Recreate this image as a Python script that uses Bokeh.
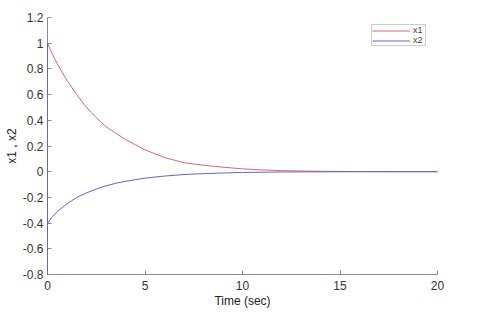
from bokeh.plotting import figure
from bokeh.models import FixedTicker, Range1d
from bokeh.embed import file_html
from bokeh.resources import INLINE

# data
t1 = [0, 0.25, 0.5, 0.75, 1, 1.25, 1.5, 1.75, 2, 2.25, 2.5, 2.75, 3, 3.5, 4, 4.5, 5,
      5.5, 6, 6.5, 7, 8, 9, 10, 11, 12, 14, 16, 18, 20]
x1 = [1.0, 0.915, 0.84, 0.775, 0.71, 0.655, 0.60, 0.55, 0.50, 0.46, 0.42, 0.385, 0.35,
      0.30, 0.25, 0.21, 0.17, 0.14, 0.11, 0.09, 0.07, 0.05, 0.035, 0.022, 0.014, 0.008,
      0.003, 0.001, 0.0, 0.0]
t2 = [0, 0, 0, 0.25, 0.5, 0.75, 1, 1.25, 1.5, 2, 2.5, 3, 3.5, 4, 5, 6, 7, 8, 9, 10,
      11, 12, 14, 16, 18, 20]
x2 = [1.0, -0.8, -0.40, -0.35, -0.31, -0.28, -0.25, -0.225, -0.20, -0.165, -0.135,
      -0.11, -0.09, -0.075, -0.05, -0.034, -0.022, -0.015, -0.01, -0.006, -0.004,
      -0.002, -0.001, 0.0, 0.0, 0.0]
x_ticks = [0, 5, 10, 15, 20]
y_ticks = [-0.8, -0.6, -0.4, -0.2, 0, 0.2, 0.4, 0.6, 0.8, 1, 1.2]
y_labels = ["-0.8", "-0.6", "-0.4", "-0.2", "0", "0.2", "0.4", "0.6", "0.8", "1", "1.2"]

p = figure(width=480, height=317, output_backend="svg", toolbar_location=None,
           x_range=Range1d(0, 20), y_range=Range1d(-0.8, 1.2),
           min_border_left=47, min_border_right=43, min_border_top=17, min_border_bottom=43)
p.outline_line_color = None
p.xgrid.visible = False
p.ygrid.visible = False

r1 = p.line(t1, x1, line_color="#d8666f", line_width=1, legend_label="x1")
r2 = p.line(t2, x2, line_color="#6464cc", line_width=1, legend_label="x2")
r1.level = "overlay"
r2.level = "overlay"

for ax in (p.xaxis[0], p.yaxis[0]):
    ax.axis_line_color = "#8a8a8a"
    ax.major_tick_line_color = "#8a8a8a"
    ax.major_tick_in = 4
    ax.major_tick_out = 0
    ax.minor_tick_line_color = None
    ax.major_label_text_font = "Liberation Sans"
    ax.major_label_text_font_size = "12px"
    ax.major_label_text_color = "#333333"
    ax.axis_label_text_font = "Liberation Sans"
    ax.axis_label_text_font_size = "12px"
    ax.axis_label_text_font_style = "normal"
    ax.axis_label_text_color = "#222222"

p.xaxis.ticker = FixedTicker(ticks=x_ticks)
p.yaxis.ticker = FixedTicker(ticks=y_ticks)
p.yaxis.major_label_overrides = {v: s for v, s in zip(y_ticks, y_labels)}
p.xaxis.major_label_standoff = 6
p.yaxis.major_label_standoff = 4
p.xaxis.axis_label = "Time (sec)"
p.yaxis.axis_label = "x1 , x2"
p.xaxis.axis_label_standoff = 1
p.yaxis.axis_label_standoff = 1

p.legend.location = (324, 228)
p.legend.margin = 0
p.legend.padding = 0
p.legend.spacing = 0
p.legend.glyph_width = 38
p.legend.glyph_height = 9
p.legend.label_height = 9
p.legend.label_width = 12
p.legend.label_text_font = "Liberation Sans"
p.legend.label_text_font_size = "9px"
p.legend.label_standoff = 3
p.legend.border_line_color = "#999999"
p.legend.background_fill_alpha = 1

open("out.html", "w").write(file_html(p, INLINE))
